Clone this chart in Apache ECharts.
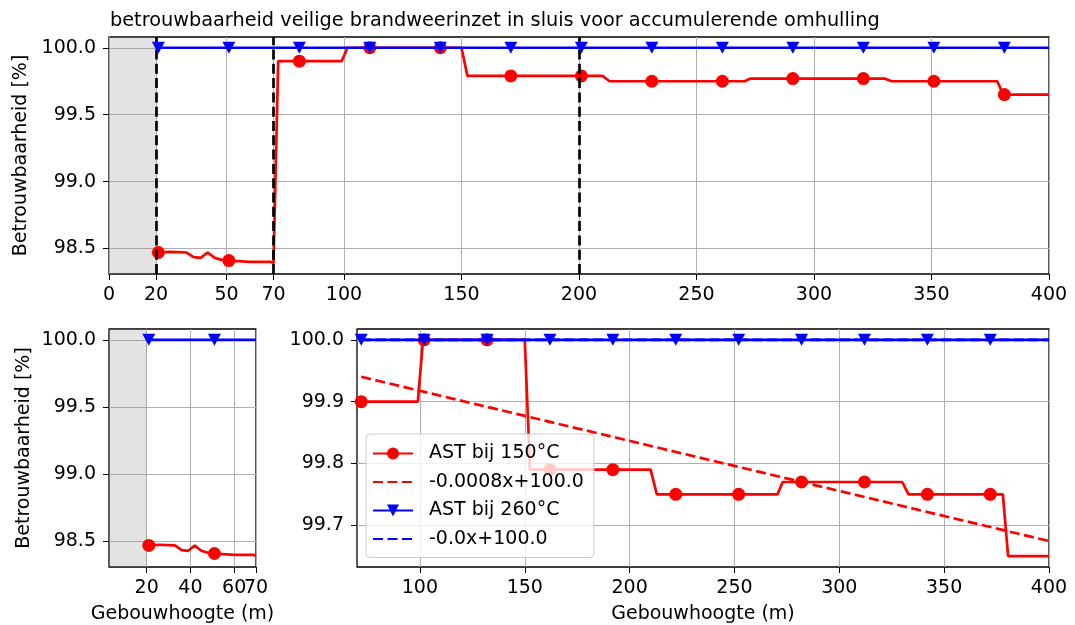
<!DOCTYPE html>
<html>
<head>
<meta charset="utf-8">
<script src="https://cdn.jsdelivr.net/npm/echarts@6/dist/echarts.min.js"></script>
<style>
  html, body { margin: 0; padding: 0; background: #fff; }
  #chart { width: 1075px; height: 625px; }
</style>
</head>
<body>
<div id="chart"></div>
<script>
// Titles and axis names
const titel = 'betrouwbaarheid veilige brandweerinzet in sluis voor accumulerende omhulling';
const yNaam = 'Betrouwbaarheid [%]';
const xNaam = 'Gebouwhoogte (m)';
const naam150 = 'AST bij 150°C';
const naam260 = 'AST bij 260°C';

// AST bij 150°C: breakpoints of the step curve (hoogte in m, betrouwbaarheid in %)
const hoogte150 = [21, 26, 33, 36, 39, 42, 45, 48, 51, 60, 69, 70, 72, 99, 101.5, 150, 152.5, 210, 213, 270.5, 273, 330, 333, 378, 380.5, 400];
const ast150    = [98.47, 98.475, 98.47, 98.435, 98.43, 98.47, 98.43, 98.415, 98.41, 98.40, 98.40, 98.39, 99.90, 99.90, 100.0, 100.0, 99.79, 99.79, 99.75, 99.75, 99.77, 99.77, 99.75, 99.75, 99.65, 99.65];

// AST bij 260°C: constant curve
const hoogte260 = [21, 400];
const ast260    = [100.0, 100.0];

// Marker positions, full range (top and small left panel)
const markerHoogte = [21, 51, 81, 111, 141, 171, 201, 231, 261, 291, 321, 351, 381];
const marker150    = [98.47, 98.41, 99.90, 100.0, 100.0, 99.79, 99.79, 99.75, 99.75, 99.77, 99.77, 99.75, 99.65];
const marker260    = [100.0, 100.0, 100.0, 100.0, 100.0, 100.0, 100.0, 100.0, 100.0, 100.0, 100.0, 100.0, 100.0];

// Marker positions in the detail panel (from 72 m)
const detailMarkerHoogte = [72, 102, 132, 162, 192, 222, 252, 282, 312, 342, 372];
const detailMarker150    = [99.90, 100.0, 100.0, 99.79, 99.79, 99.75, 99.75, 99.77, 99.77, 99.75, 99.75];
const detailMarker260    = [100.0, 100.0, 100.0, 100.0, 100.0, 100.0, 100.0, 100.0, 100.0, 100.0, 100.0];

// Linear fits (slope, intercept) for the detail panel
const trendHoogte = [72, 400];
const trendCoef150 = [-0.00081, 99.9985];
const trendCoef260 = [-0.0, 100.0];

// Reference heights (dashed lines) and shaded band
const grensHoogte = [20, 70, 200];
const bandTot = 20;

// Tick values
const xTicksBoven  = [0, 20, 50, 70, 100, 150, 200, 250, 300, 350, 400];
const xTicksLinks  = [20, 40, 60, 70];
const xTicksRechts = [100, 150, 200, 250, 300, 350, 400];
const yTicksBreed  = [98.5, 99.0, 99.5, 100.0];
const yTicksDetail = [99.7, 99.8, 99.9, 100.0];

// ---------------------------------------------------------------------------
const FONT = 'DejaVu Sans';
const ROOD = '#ff0000';
const BLAUW = '#0000ff';
const LW = 2.7;

// Python-like number text (keeps "-0.0")
function pyStr(v, d) {
  const f = Math.pow(10, d);
  const r = Math.round(v * f) / f;
  if (Object.is(r, -0)) return '-0.0';
  return Number.isInteger(r) ? r.toFixed(1) : String(r);
}
const trendNaam = c => pyStr(c[0], 4) + 'x+' + pyStr(c[1], 1);
const naamTrend150 = trendNaam(trendCoef150);
const naamTrend260 = trendNaam(trendCoef260);

// Merge curve breakpoints (no symbol) and marker points into one line, within [van, tot]
function lijnItems(xs, ys, mxs, mys, van, tot) {
  const items = [];
  xs.forEach((x, i) => items.push({ value: [x, ys[i]], symbol: 'none', k: 0 }));
  mxs.forEach((x, i) => items.push({ value: [x, mys[i]], k: 1 }));
  items.sort((a, b) => (a.value[0] - b.value[0]) || (a.k - b.k));
  return items.filter(it => it.value[0] >= van && it.value[0] <= tot).map(it => {
    const o = { value: it.value };
    if (it.symbol) o.symbol = it.symbol;
    return o;
  });
}

const tickText = { fontFamily: FONT, fontSize: 19, color: '#000' };

function xAs(gridIndex, min, max, ticks, labels, naam) {
  return {
    type: 'value', gridIndex, min, max, position: 'bottom',
    name: naam || '', nameLocation: 'middle', nameGap: 38,
    nameTextStyle: { fontFamily: FONT, fontSize: 19, color: '#000' },
    axisLine: { show: false },
    axisTick: { show: ticks.length > 0, length: 6, inside: false, customValues: ticks, lineStyle: { color: '#000', width: 1 } },
    axisLabel: { customValues: labels, margin: 12, hideOverlap: false, ...tickText, formatter: v => String(v) },
    splitLine: { show: ticks.length > 0, lineStyle: { color: '#b0b0b0', width: 1 } }
  };
}
function yAs(gridIndex, min, max, ticks, naam) {
  return {
    type: 'value', gridIndex, min, max,
    name: naam || '', nameLocation: 'middle', nameGap: 75, nameRotate: 90,
    nameTextStyle: { fontFamily: FONT, fontSize: 19, color: '#000' },
    axisLine: { show: false },
    axisTick: { show: true, length: 6, inside: false, customValues: ticks, lineStyle: { color: '#000', width: 1 } },
    axisLabel: { customValues: ticks, margin: 13, hideOverlap: false, ...tickText, formatter: v => v.toFixed(1) },
    splitLine: { show: true, lineStyle: { color: '#b0b0b0', width: 1 } }
  };
}

const rand = { show: true, borderColor: '#000', borderWidth: 1.3, backgroundColor: 'transparent' };

function curve150(idx, data) {
  return {
    name: naam150, type: 'line', xAxisIndex: idx, yAxisIndex: idx, data,
    symbol: 'circle', symbolSize: 13, showSymbol: true,
    lineStyle: { color: ROOD, width: LW }, itemStyle: { color: ROOD },
    z: 3, animation: false, silent: true
  };
}
function curve260(idx, data) {
  return {
    name: naam260, type: 'line', xAxisIndex: idx, yAxisIndex: idx, data,
    symbol: 'triangle', symbolSize: [13, 12], symbolRotate: 180, showSymbol: true,
    lineStyle: { color: BLAUW, width: LW }, itemStyle: { color: BLAUW },
    z: 5, animation: false, silent: true
  };
}
function band(idx, van) {
  return {
    type: 'line', xAxisIndex: idx, yAxisIndex: idx, data: [], z: 1, silent: true,
    markArea: { silent: true, itemStyle: { color: 'rgba(128,128,128,0.22)' },
      data: [[{ xAxis: van }, { xAxis: bandTot }]] }
  };
}

const yMinBreed = 98.3095, yMaxBreed = 100.0805;
const yMinDetail = 99.6325, yMaxDetail = 100.0175;
const xMinLinks = 2.8;

// small panel: last tick label sits on its own axis so it can touch "60"
const labelsLinks = xTicksLinks.slice(0, -1);
const labelLinksEind = xTicksLinks.slice(-1);

const option = {
  animation: false,
  backgroundColor: '#fff',
  title: {
    text: titel, left: 105, top: 6,
    textStyle: { fontFamily: FONT, fontSize: 19.3, fontWeight: 'normal', color: '#000' }
  },
  grid: [
    { left: 109, top: 37, width: 940, height: 237, ...rand },
    { left: 109, top: 329, width: 147, height: 238, ...rand },
    { left: 357, top: 329, width: 692, height: 238, ...rand }
  ],
  xAxis: [
    xAs(0, 0, 400, xTicksBoven, xTicksBoven),
    xAs(1, xMinLinks, 70, xTicksLinks, labelsLinks, xNaam),
    xAs(2, 70, 400, xTicksRechts, xTicksRechts, xNaam),
    xAs(1, xMinLinks, 70, [], labelLinksEind)
  ],
  yAxis: [
    yAs(0, yMinBreed, yMaxBreed, yTicksBreed, yNaam),
    yAs(1, yMinBreed, yMaxBreed, yTicksBreed, yNaam),
    yAs(2, yMinDetail, yMaxDetail, yTicksDetail)
  ],
  legend: {
    left: 366, top: 434, orient: 'vertical',
    data: [
      { name: naam150 },
      { name: naamTrend150, itemStyle: { opacity: 0 } },
      { name: naam260 },
      { name: naamTrend260, itemStyle: { opacity: 0 } }
    ],
    itemWidth: 40, itemHeight: 15, itemGap: 9.5,
    padding: [10, 10, 9, 6],
    backgroundColor: 'rgba(255,255,255,0.8)', borderColor: '#cccccc', borderWidth: 1, borderRadius: 4,
    textStyle: { fontFamily: FONT, fontSize: 19, color: '#000', padding: [0, 0, 0, 11] },
    selectedMode: false
  },
  series: [
    // top panel
    band(0, 0),
    curve150(0, lijnItems(hoogte150, ast150, markerHoogte, marker150, 0, 400)),
    curve260(0, lijnItems(hoogte260, ast260, markerHoogte, marker260, 0, 400)),
    {
      type: 'line', xAxisIndex: 0, yAxisIndex: 0, data: [], z: 10, silent: true,
      markLine: {
        silent: true, symbol: ['none', 'none'], label: { show: false },
        lineStyle: { color: '#000', type: [10, 4.3], width: LW },
        data: grensHoogte.map(x => ({ xAxis: x }))
      }
    },
    // small left panel
    band(1, xMinLinks),
    curve150(1, lijnItems(hoogte150, ast150, markerHoogte, marker150, 0, 70)),
    curve260(1, lijnItems([hoogte260[0], 70], ast260, markerHoogte, marker260, 0, 70)),
    // detail panel
    curve150(2, lijnItems(hoogte150, ast150, detailMarkerHoogte, detailMarker150, 72, 400)),
    {
      name: naamTrend150, type: 'line', xAxisIndex: 2, yAxisIndex: 2,
      data: trendHoogte.map(x => [x, trendCoef150[0] * x + trendCoef150[1]]),
      symbol: 'none', lineStyle: { color: ROOD, width: LW, type: [10, 4.5] }, itemStyle: { color: ROOD },
      z: 3, silent: true
    },
    curve260(2, lijnItems(hoogte260, ast260, detailMarkerHoogte, detailMarker260, 72, 400)),
    {
      name: naamTrend260, type: 'line', xAxisIndex: 2, yAxisIndex: 2,
      data: trendHoogte.map(x => [x, trendCoef260[0] * x + trendCoef260[1]]),
      symbol: 'none', lineStyle: { color: BLAUW, width: LW, type: [10, 4.5] }, itemStyle: { color: BLAUW },
      z: 5, silent: true
    }
  ]
};

const chart = echarts.init(document.getElementById('chart'), null, { renderer: 'canvas' });
chart.setOption(option);
</script>
</body>
</html>
